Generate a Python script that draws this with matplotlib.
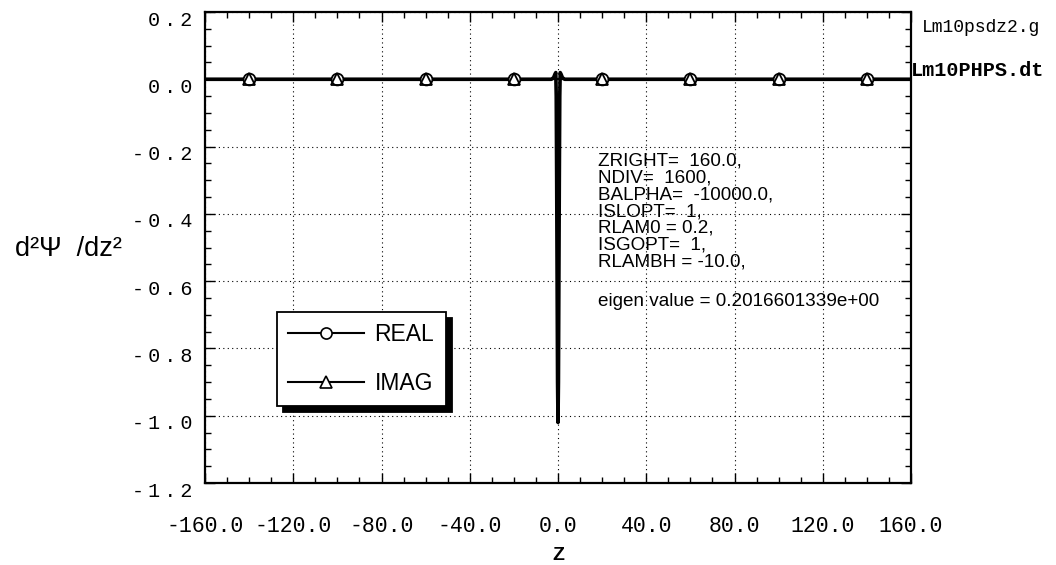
import matplotlib
matplotlib.use("Agg")
import matplotlib.pyplot as plt
from matplotlib.lines import Line2D
from matplotlib.ticker import FixedLocator, MultipleLocator
import matplotlib.transforms as mtransforms

# ---------------- data ----------------
z_line = [-160.0, -3.0, -2.0, -1.4, -1.0, -0.8, -0.6, -0.4, -0.2, 0.0,
          0.2, 0.4, 0.6, 0.8, 1.0, 1.4, 2.0, 3.0, 160.0]
real_line = [0.0, 0.0, 0.005, 0.015, 0.02, -0.05, -0.3, -0.6, -0.9, -1.02,
             -0.9, -0.6, -0.3, -0.05, 0.02, 0.015, 0.005, 0.0, 0.0]
z_imag = [-160.0, 160.0]
imag_line = [0.0, 0.0]

z_marks = [-140.0, -100.0, -60.0, -20.0, 20.0, 60.0, 100.0, 140.0]
real_marks = [0.0, 0.0, 0.0, 0.0, 0.0, 0.0, 0.0, 0.0]
imag_marks = [0.0, 0.0, 0.0, 0.0, 0.0, 0.0, 0.0, 0.0]

series_labels = ["REAL", "IMAG"]
x_ticks = [-160, -120, -80, -40, 0, 40, 80, 120, 160]
x_tick_labels = ["-160.0", "-120.0", "-80.0", "-40.0", "0.0", "40.0", "80.0", "120.0", "160.0"]
y_ticks = [0.2, 0.0, -0.2, -0.4, -0.6, -0.8, -1.0, -1.2]
y_tick_labels = ["0.2", "0.0", "-0.2", "-0.4", "-0.6", "-0.8", "-1.0", "-1.2"]

info_lines = ["ZRIGHT=  160.0,", "NDIV=  1600,", "BALPHA=  -10000.0,", "ISLOPT=  1,",
              "RLAM0 = 0.2,", "ISGOPT=  1,", "RLAMBH = -10.0,"]
eigen_line = "eigen value = 0.2016601339e+00"
file_top = "Lm10psdz2.g"
file_data = "Lm10PHPS.dt"

# ---------------- figure ----------------
W, H = 1056, 565
fig = plt.figure(figsize=(W / 100, H / 100), dpi=100)
fig.patch.set_facecolor("white")
L, R, T, B = 205, 911, 12, 483
ax = fig.add_axes([L / W, 1 - B / H, (R - L) / W, (B - T) / H])

ax.plot(z_imag, imag_line, color="black", lw=1.6, zorder=3)
ax.plot(z_line, real_line, color="black", lw=2.6, zorder=4)
ax.plot(z_marks, real_marks, linestyle="none", marker="o", ms=8.5,
        mfc="white", mec="black", mew=1.3, zorder=5)
ax.plot(z_marks, imag_marks, linestyle="none", marker="^", ms=8.5,
        mfc="none", mec="black", mew=1.3, zorder=6)

ax.set_xlim(-160, 160)
ax.set_ylim(-1.2, 0.2)

ax.xaxis.set_major_locator(FixedLocator(x_ticks))
ax.xaxis.set_minor_locator(MultipleLocator(10))
ax.yaxis.set_major_locator(FixedLocator(y_ticks))
ax.yaxis.set_minor_locator(MultipleLocator(0.05))

ax.grid(True, which="major", color="black", linestyle=(0, (1, 3)), linewidth=0.8)
for s in ax.spines.values():
    s.set_linewidth(1.6)
    s.set_color("black")

ax.tick_params(which="both", direction="in", top=True, right=True, width=1.0, color="black")
ax.tick_params(which="major", length=7)
ax.tick_params(which="minor", length=4)
ax.tick_params(axis="x", which="major", pad=24)
ax.tick_params(axis="y", which="major", pad=9)

ax.set_xticklabels(x_tick_labels, fontfamily=["Liberation Mono", "DejaVu Sans Mono"],
                   fontsize=15.5)
thin = "\u2009"
ax.set_yticklabels([thin.join(s) for s in y_tick_labels],
                   fontfamily=["Liberation Mono", "DejaVu Sans"], fontsize=14.5)
off = mtransforms.ScaledTranslation(0, -6 / 100, fig.dpi_scale_trans)
for lbl in ax.get_yticklabels():
    lbl.set_transform(lbl.get_transform() + off)

# axis labels
fig.text(15 / W, 1 - 256 / H, "d\u00b2\u03a8  /dz\u00b2", ha="left", va="baseline",
         fontsize=19.5, family="Liberation Sans")
fig.text(558 / W, 1 - 555 / H, "Z", ha="center", va="center", fontsize=14,
         fontweight="bold", family="Liberation Sans")

# info text block
base = 166.0
for i, line in enumerate(info_lines):
    fig.text(598 / W, 1 - (base + 16.7 * i) / H, line, ha="left", va="baseline",
             fontsize=13.6, family="Liberation Sans", zorder=10)
fig.text(598 / W, 1 - 306 / H, eigen_line, ha="left", va="baseline",
         fontsize=13.6, family="Liberation Sans", zorder=10)

# file names at right
fig.text(922 / W, 1 - 27 / H, file_top, ha="left", va="center", fontsize=13,
         family="Liberation Mono")
fig.text(911 / W, 1 - 70 / H, file_data, ha="left", va="center", fontsize=14.5,
         family="Liberation Mono", fontweight="bold")

# legend
handles = [
    Line2D([], [], color="black", lw=1.5, marker="o", ms=8, mfc="white", mec="black", mew=1.2),
    Line2D([], [], color="black", lw=1.5, marker="^", ms=8, mfc="white", mec="black", mew=1.2),
]
leg = ax.legend(handles, series_labels, loc="upper left",
                bbox_to_anchor=(277 / W, 1 - 312 / H), bbox_transform=fig.transFigure,
                borderaxespad=0, frameon=True, fancybox=False, framealpha=1,
                edgecolor="black", facecolor="white",
                shadow={"color": "black", "alpha": 1, "ox": 4.5, "oy": -4.5},
                prop={"family": "Liberation Sans", "size": 16.5},
                handlelength=3.3, handletextpad=0.45, labelspacing=1.1, borderpad=0.5)
leg.get_frame().set_linewidth(1.3)
leg.set_zorder(20)

fig.savefig("out.png", dpi=100, facecolor="white")
